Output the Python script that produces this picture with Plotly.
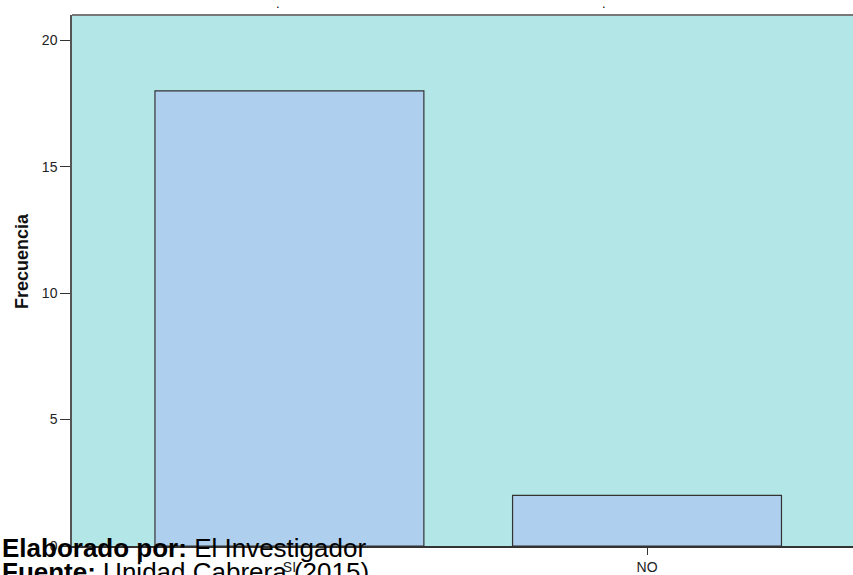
import plotly.graph_objects as go

categories = ["SI", "NO"]
frecuencia = [18, 2]
y_ticks = [0, 5, 10, 15, 20]

W, H = 853, 575
ML, MT, MB, MR = 72, 15, 27, 0
ph = H - MT - MB
pw = W - ML - MR

def py(pix):
    return (H - MB - pix) / ph

def px(pix):
    return (pix - ML) / pw

fig = go.Figure(go.Bar(
    x=list(range(len(categories))), y=frecuencia, width=0.752,
    marker=dict(color="#aecfed", line=dict(color="#333333", width=1.2)),
    hoverinfo="skip",
))

fig.update_layout(
    width=W, height=H,
    margin=dict(l=ML, r=MR, t=MT, b=MB, pad=0),
    paper_bgcolor="white", plot_bgcolor="#b3e6e6",
    showlegend=False,
    font=dict(family="Arial, Liberation Sans, sans-serif", color="#222222"),
    xaxis=dict(range=[-0.608, 1.576], tickmode="array",
               tickvals=list(range(len(categories))), ticktext=categories,
               showgrid=False, zeroline=False, showline=True,
               linecolor="#333333", linewidth=1.5,
               ticks="outside", ticklen=7, tickcolor="#333333",
               tickfont=dict(size=14, color="#222222")),
    yaxis=dict(range=[0, 21], tickvals=y_ticks, showgrid=False, zeroline=False,
               showline=True, linecolor="#555555", linewidth=1.5,
               ticks="outside", ticklen=10, tickcolor="#333333",
               tickfont=dict(size=14, color="#222222")),
    shapes=[dict(type="line", xref="paper", yref="paper", x0=0, x1=1, y0=1, y1=1,
                 line=dict(color="#777777", width=2))],
    annotations=[
        dict(xref="paper", yref="paper", x=px(22), y=py(262),
             text="<b>Frecuencia</b>", textangle=-90, showarrow=False,
             font=dict(size=18, color="#111111"), xanchor="center", yanchor="middle"),
        dict(xref="paper", yref="paper", x=px(278), y=py(3),
             text=".", showarrow=False, font=dict(size=13, color="black"),
             xanchor="center", yanchor="middle"),
        dict(xref="paper", yref="paper", x=px(604), y=py(3),
             text=".", showarrow=False, font=dict(size=13, color="black"),
             xanchor="center", yanchor="middle"),
        dict(xref="paper", yref="paper", x=px(0), y=py(550),
             text="<b>Elaborado por:</b> El Investigador", showarrow=False,
             font=dict(size=26, color="black"), xanchor="left", yanchor="middle"),
        dict(xref="paper", yref="paper", x=px(0), y=py(574),
             text="<b>Fuente:</b> Unidad Cabrera (2015)", showarrow=False,
             font=dict(size=26, color="black"), xanchor="left", yanchor="middle"),
    ],
)

fig.write_html("out.html", post_script="document.body.style.margin='0';",
               config={"displayModeBar": False})
